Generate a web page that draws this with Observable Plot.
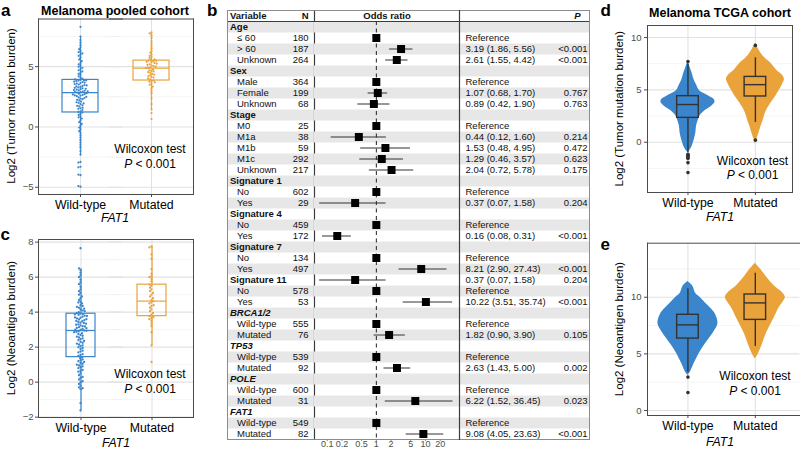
<!DOCTYPE html>
<html><head><meta charset="utf-8">
<script src="https://cdn.jsdelivr.net/npm/d3@7"></script>
<script src="https://cdn.jsdelivr.net/npm/@observablehq/plot@0.6"></script>
<style>
body{margin:0;background:#fff}
#root{position:relative;width:800px;height:451px;overflow:hidden;font-family:"Liberation Sans",Arial,Helvetica,sans-serif;color:#000;background:#fff}
.panel{position:absolute}
#overlay{position:absolute;left:0;top:0;pointer-events:none}
</style></head><body><div id="root"></div><script>
const FONT = '"Liberation Sans", Arial, Helvetica, sans-serif';
const FRAME = "#4a4a4a", DARK = "#333333", GRID_MAJOR = "#e2e2e2", GRID_MINOR = "#eeeeee";
const groups = ["Wild-type", "Mutated"];
const groupColors = ["#3a85cc", "#eaa23a"];

// ---------- panel a : pooled cohort, log2 tumour mutation burden ----------
const aWildType = [-4.95,-4.9,-4.0,-3.95,-3.35,-3.3,-2.95,-2.9,-2.3,-2.0,-1.7,-1.5,-1.3,-1.1,-0.9,-0.7,-0.5,-0.35,-0.2,-0.05,0.1,0.25,0.4,0.55,0.7,0.8,0.9,1.0,1.1,1.2,
 1.25,1.3,1.4,1.5,1.55,1.6,1.7,1.75,1.8,1.9,1.95,2.0,2.05,2.1,2.2,2.25,2.3,2.35,2.4,2.45,2.5,2.55,2.6,2.62,2.65,2.7,2.72,2.75,2.8,2.85,
 2.88,2.9,2.93,2.96,3.0,3.03,3.06,3.1,3.13,3.16,3.2,3.24,3.28,3.32,3.36,3.4,3.44,3.48,3.52,3.56,3.6,3.64,3.68,3.72,3.76,3.8,3.83,3.86,3.88,3.9,
 3.95,4.0,4.1,4.2,4.3,4.4,4.5,4.6,4.7,4.8,4.9,5.0,5.1,5.2,5.3,5.45,5.6,5.75,5.9,6.0,6.1,6.2,6.3,6.45,6.6,6.8,7.0,7.2,7.5,8.3];
const aMutated = [0.66,1.15,1.45,1.9,2.4,2.8,3.0,3.2,3.35,3.5,3.6,3.7,3.75,3.8,3.85,
 3.95,4.0,4.1,4.15,4.2,4.3,4.35,4.4,4.5,4.55,4.6,4.65,4.7,4.78,4.87,
 4.9,4.95,5.0,5.05,5.1,5.15,5.2,5.25,5.3,5.35,5.4,5.45,5.48,5.5,5.52,
 5.6,5.7,5.8,5.9,6.0,6.15,6.3,6.5,6.7,6.9,7.1,7.4,7.6,7.75,7.85];
const aWhiskerLo = [-2.3, 1.45], aQ1 = [1.2, 3.85], aMedian = [2.85, 4.87], aQ3 = [3.9, 5.5], aWhiskerHi = [7.5, 7.83];
const aTicks = [-5, 0, 5], aMinor = [-2.5, 2.5, 7.5];

// ---------- panel c : pooled cohort, log2 neoantigen burden ----------
const cWildType = [-1.62,-1.2,-0.4,-0.35,-0.3,-0.2,-0.1,0.0,0.05,0.15,0.25,0.3,0.4,0.5,0.6,0.65,0.7,0.8,0.85,0.9,0.95,1.0,1.05,1.1,1.15,1.2,1.25,1.3,1.38,1.43,
 1.5,1.55,1.6,1.7,1.75,1.8,1.9,1.95,2.0,2.05,2.1,2.15,2.2,2.25,2.3,2.35,2.4,2.45,2.5,2.55,2.6,2.65,2.7,2.75,2.8,2.85,2.88,2.9,2.93,2.95,
 2.98,3.0,3.04,3.08,3.1,3.14,3.18,3.2,3.24,3.28,3.3,3.34,3.38,3.4,3.44,3.48,3.5,3.54,3.58,3.6,3.64,3.68,3.7,3.74,3.78,3.8,3.84,3.87,3.89,3.91,
 3.95,4.0,4.05,4.1,4.15,4.2,4.25,4.3,4.35,4.4,4.5,4.55,4.6,4.7,4.8,4.9,5.0,5.1,5.2,5.3,5.45,5.6,5.7,5.85,6.0,6.1,6.25,6.4,6.5,7.65];
const cMutated = [1.15,2.1,2.85,3.2,3.35,3.5,3.6,3.65,3.72,3.77,
 3.85,3.95,4.05,4.15,4.25,4.35,4.4,4.5,4.55,4.63,
 4.7,4.8,4.9,5.0,5.1,5.2,5.3,5.4,5.5,5.57,
 5.75,5.9,6.0,6.05,6.2,6.45,7.05,7.3,7.7,7.75];
const cWhiskerLo = [-1.62, 2.1], cQ1 = [1.43, 3.77], cMedian = [2.95, 4.63], cQ3 = [3.91, 5.57], cWhiskerHi = [6.48, 7.77];
const cTicks = [-2, 0, 2, 4, 6, 8], cMinor = [-1, 1, 3, 5, 7];

// ---------- panel d : TCGA, log2 tumour mutation burden (violin half-widths) ----------
const dViolinWT = [[-1.0,0],[-0.7,0.037],[-0.3,0.067],[0,0.082],[0.5,0.104],[1,0.119],[1.5,0.126],[2,0.148],[2.5,0.178],[3,0.252],[3.4,0.341],[3.8,0.4],[4.1,0.386],[4.4,0.312],[4.7,0.223],[5,0.163],[5.5,0.126],[6,0.089],[6.5,0.067],[7,0.04],[7.4,0.018],[7.7,0]];
const dViolinMut = [[-0.2,0],[0.3,0.022],[0.8,0.049],[1.5,0.082],[2,0.111],[2.5,0.134],[3,0.163],[3.5,0.208],[4,0.26],[4.5,0.312],[5,0.356],[5.5,0.4],[6,0.43],[6.4,0.4],[6.8,0.326],[7.15,0.282],[7.6,0.223],[8.1,0.134],[8.75,0.059],[9.2,0.022],[9.45,0]];
const dWhiskerLo = [-1.0, 1.9], dQ1 = [2.33, 4.37], dMedian = [3.6, 5.5], dQ3 = [4.4, 6.24], dWhiskerHi = [7.45, 8.06];
const dOutliersWT = [-1.15,-1.25,-1.35,-1.45,-1.55,-1.95,-2.9,7.7], dOutliersMut = [0.2, 9.25];
const dTicks = [0, 5, 10], dMinor = [-2.5, 2.5, 7.5];

// ---------- panel e : TCGA, log2 neoantigen burden ----------
const eViolinWT = [[3.1,0],[3.4,0.037],[4.1,0.089],[5.0,0.163],[5.9,0.26],[6.8,0.371],[7.65,0.445],[8.5,0.408],[9.0,0.341],[9.5,0.26],[10.0,0.178],[10.3,0.119],[11.0,0.07],[11.4,0]];
const eViolinMut = [[4.56,0],[4.9,0.037],[5.6,0.089],[6.8,0.163],[7.95,0.26],[9.1,0.356],[9.6,0.415],[10.0,0.445],[10.5,0.386],[11.0,0.282],[11.8,0.163],[12.4,0.089],[13.0,0]];
const eWhiskerLo = [3.38, 5.65], eQ1 = [6.35, 8.0], eMedian = [7.56, 9.5], eQ3 = [8.45, 10.24], eWhiskerHi = [10.74, 12.12];
const eOutliersWT = [2.95, 1.58], eOutliersMut = [];
const eTicks = [0, 5, 10], eMinor = [2.5, 7.5, 12.5];

// ---------- panel b : multivariable logistic regression ----------
const fVar = ["Age","≤ 60","> 60","Unknown","Sex","Male","Female","Unknown","Stage","M0","M1a","M1b","M1c","Unknown",
 "Signature 1","No","Yes","Signature 4","No","Yes","Signature 7","No","Yes","Signature 11","No","Yes",
 "BRCA1/2","Wild-type","Mutated","TP53","Wild-type","Mutated","POLE","Wild-type","Mutated","FAT1","Wild-type","Mutated"];
const fKind = ["h","s","s","s","h","s","s","s","h","s","s","s","s","s","h","s","s","h","s","s","h","s","s","h","s","s",
 "g","s","s","g","s","s","g","s","s","g","s","s"];
const fN = [null,180,187,264,null,364,199,68,null,25,38,59,292,217,null,602,29,null,459,172,null,134,497,null,578,53,
 null,555,76,null,539,92,null,600,31,null,549,82];
const fOR = [null,1,3.19,2.61,null,1,1.07,0.89,null,1,0.44,1.53,1.29,2.04,null,1,0.37,null,1,0.16,null,1,8.21,0.37,1,10.22,
 null,1,1.82,null,1,2.63,null,1,6.22,null,1,9.08];
const fLo = [null,null,1.86,1.55,null,null,0.68,0.42,null,null,0.12,0.48,0.46,0.72,null,null,0.07,null,null,0.08,null,null,2.90,0.07,null,3.51,
 null,null,0.90,null,null,1.43,null,null,1.52,null,null,4.05];
const fHi = [null,null,5.56,4.42,null,null,1.70,1.90,null,null,1.60,4.95,3.57,5.78,null,null,1.58,null,null,0.31,null,null,27.43,1.58,null,35.74,
 null,null,3.90,null,null,5.00,null,null,36.45,null,null,23.63];
const fP = ["","","<0.001","<0.001","","","0.767","0.763","","","0.214","0.472","0.623","0.175","","","0.204","","","<0.001","","","<0.001","0.204","","<0.001",
 "","","0.105","","","0.002","","","0.023","","","<0.001"];
const orTicks = [0.1, 0.2, 0.5, 1, 2, 5, 10, 20];

// ---------- helpers ----------
const root = document.getElementById("root");
function place(node, left, top) {
  const div = document.createElement("div");
  div.className = "panel"; div.style.left = left + "px"; div.style.top = top + "px";
  div.appendChild(node); root.appendChild(div);
}
const baseStyle = {background: "transparent", overflow: "visible", fontFamily: FONT, color: "#000"};
function boxRows(lo, q1, med, q3, hi) {
  return groups.map((g, i) => ({g, c: i + 1, lo: lo[i], q1: q1[i], med: med[i], q3: q3[i], hi: hi[i]}));
}
// placement order for the dodge (interleaved, so the swarm spreads to both sides)
function interleave(n) {
  return d3.range(n).sort((i, j) => ((i * 0.6180339887) % 1) - ((j * 0.6180339887) % 1));
}

// one group of a jittered box plot (panels a, c); the two halves overlap to form one panel
function stripHalf(o, gi, left, top) {
  const g = groups[gi], col = groupColors[gi];
  const vals = o.values[gi];
  const pts = interleave(vals.length).map(i => ({g, v: vals[i]}));
  const box = [o.box[gi]];
  const line = {stroke: col, strokeWidth: 1.2};
  const dims = {
    width: gi === 0 ? o.ml + o.half : o.half + o.mr,
    height: o.height,
    marginTop: o.mt, marginBottom: o.mb,
    marginLeft: gi === 0 ? o.ml : 0, marginRight: gi === 0 ? 0 : o.mr,
    style: baseStyle
  };
  const marks = [
    Plot.ruleY(o.minor, {stroke: GRID_MINOR, strokeWidth: 0.6}),
    Plot.ruleY(o.ticks, {stroke: GRID_MAJOR, strokeWidth: 1.1}),
    Plot.ruleX([g], {stroke: GRID_MAJOR, strokeWidth: 1.1}),
    Plot.ruleX(box, {x: "g", y1: "lo", y2: "q1", ...line}),
    Plot.ruleX(box, {x: "g", y1: "q3", y2: "hi", ...line}),
    Plot.barY(box, {x: "g", y1: "q1", y2: "q3", fill: "none", ...line}),
    Plot.tickY(box, {x: "g", y: "med", ...line}),
    Plot.frame({anchor: "top", stroke: FRAME}),
    Plot.frame({anchor: "bottom", stroke: FRAME}),
    Plot.frame({anchor: gi === 0 ? "left" : "right", stroke: FRAME}),
    Plot.axisX({tickSize: 3, tickPadding: 3, fontSize: 12.3, fill: "#000", stroke: FRAME, label: null})
  ];
  if (gi === 0) marks.push(Plot.axisY(o.ticks, {tickSize: 3, tickPadding: 2, fontSize: 9.5, fill: "#4d4d4d", stroke: FRAME, label: null}));
  place(Plot.plot({
    ...dims,
    x: {domain: [g], padding: o.pad},
    y: gi === 0 ? {domain: o.yDomain} : {domain: o.yDomain, axis: null},
    marks
  }), left, top);
  // points layer: same frame, dodged around the frame's middle (= the group's centre)
  place(Plot.plot({
    ...dims,
    y: {domain: o.yDomain, axis: null},
    marks: [Plot.dot(pts, Plot.dodgeX({anchor: "middle", padding: o.dodgePad}, {y: "v", r: o.r, fill: col}))]
  }), left, top);
}
function stripPanel(o, left, top) {
  stripHalf(o, 0, left, top);
  stripHalf(o, 1, left + o.ml + o.frameW - o.half, top);
}

function violinPanel(o) {
  const viol = [];
  o.violins.forEach((pairs, i) => pairs.forEach(([y, w]) => viol.push({g: groups[i], c: i + 1, y, w})));
  const outl = [];
  o.outliers.forEach((arr, i) => arr.forEach(v => outl.push({c: i + 1, v})));
  const box = o.box, hw = o.boxHalf;
  const dark = {stroke: DARK, strokeWidth: 1.4};
  const marks = [
    Plot.ruleY(o.minor, {stroke: GRID_MINOR, strokeWidth: 0.6}),
    Plot.ruleY(o.ticks, {stroke: GRID_MAJOR, strokeWidth: 1.1}),
    Plot.ruleX([1, 2], {stroke: GRID_MAJOR, strokeWidth: 1.1}),
    Plot.areaX(viol, {y: "y", x1: d => d.c - d.w, x2: d => d.c + d.w, z: "g", fill: "g", curve: "catmull-rom"}),
    Plot.ruleX(box, {x: "c", y1: "lo", y2: "q1", ...dark}),
    Plot.ruleX(box, {x: "c", y1: "q3", y2: "hi", ...dark}),
    Plot.rect(box, {x1: d => d.c - hw, x2: d => d.c + hw, y1: "q1", y2: "q3", fill: "g", ...dark}),
    Plot.ruleY(box, {y: "med", x1: d => d.c - hw, x2: d => d.c + hw, ...dark}),
    Plot.dot(outl, {x: "c", y: "v", r: 1.8, fill: DARK}),
    Plot.frame({anchor: "top", stroke: FRAME}),
    Plot.frame({anchor: "bottom", stroke: FRAME}),
    Plot.frame({anchor: "left", stroke: FRAME}),
    Plot.axisY(o.ticks, {tickSize: 3, tickPadding: 3, fontSize: 9.5, fill: "#4d4d4d", stroke: FRAME, label: null}),
    Plot.axisX([1, 2], {tickFormat: d => groups[d - 1], tickSize: 3, tickPadding: 3, fontSize: 12.3, fill: "#000", stroke: FRAME, label: null})
  ];
  if (o.rightBorder) marks.push(Plot.frame({anchor: "right", stroke: FRAME}));
  return Plot.plot({
    width: o.width, height: o.height,
    marginTop: o.mt, marginBottom: o.mb, marginLeft: o.ml, marginRight: o.mr,
    style: baseStyle,
    x: {domain: o.xDomain},
    y: {domain: o.yDomain},
    color: {domain: groups, range: groupColors},
    marks
  });
}

// ---------- panels a, c ----------
stripPanel({
  values: [aWildType, aMutated], box: boxRows(aWhiskerLo, aQ1, aMedian, aQ3, aWhiskerHi),
  height: 230, mt: 18.5, mb: 36, ml: 38, mr: 7.5, frameW: 154.5, half: 84, pad: 0.393,
  yDomain: [-5.6, 8.95], ticks: aTicks, minor: aMinor, r: 1.1, dodgePad: 0
}, 0, 0);
stripPanel({
  values: [cWildType, cMutated], box: boxRows(cWhiskerLo, cQ1, cMedian, cQ3, cWhiskerHi),
  height: 221, mt: 9, mb: 34, ml: 38, mr: 7, frameW: 155, half: 84, pad: 0.487,
  yDomain: [-2.02, 8.15], ticks: cTicks, minor: cMinor, r: 1.15, dodgePad: 0
}, 0, 230);

// ---------- panels d, e ----------
place(violinPanel({
  violins: [dViolinWT, dViolinMut], outliers: [dOutliersWT, dOutliersMut],
  box: boxRows(dWhiskerLo, dQ1, dMedian, dQ3, dWhiskerHi), boxHalf: 0.16,
  width: 200, height: 230, mt: 25, mb: 38, ml: 47, mr: 8,
  xDomain: [0.4, 2.55], yDomain: [-4.8, 11.15], ticks: dTicks, minor: dMinor, rightBorder: true
}), 600, 0);
place(violinPanel({
  violins: [eViolinWT, eViolinMut], outliers: [eOutliersWT, eOutliersMut],
  box: boxRows(eWhiskerLo, eQ1, eMedian, eQ3, eWhiskerHi), boxHalf: 0.16,
  width: 200, height: 221, mt: 12.7, mb: 36, ml: 47, mr: 0.5,
  xDomain: [0.4, 2.663], yDomain: [-0.44, 14.77], ticks: eTicks, minor: eMinor, rightBorder: false
}), 600, 230);

// ---------- panel b : table + forest plot ----------
const rowH = 11;
const fmt = d3.format(".2f");
const rows = fVar.map((label, i) => ({i, label, kind: fKind[i], n: fN[i], or: fOR[i], lo: fLo[i], hi: fHi[i], p: fP[i]}));
const yBand = {type: "band", domain: [-1, ...rows.map(d => d.i)], padding: 0, axis: null};
const tableCommon = {height: 451, marginTop: 10, marginBottom: 12, marginLeft: 0, marginRight: 0, style: baseStyle, y: yBand};
const STRIPE = "#e7e7e7", OUTER = "#8c8c8c", SEP = "#3c3c3c";
const stripes = () => Plot.ruleY(rows.filter(d => d.i % 2 === 0), {y: "i", stroke: STRIPE, strokeWidth: rowH});
const headerLine = () => Plot.ruleY([0], {dy: -rowH / 2, stroke: SEP});
const txt = {fontSize: 9.5, fill: "#111"};

place(Plot.plot({
  ...tableCommon, width: 87,
  marks: [
    stripes(), headerLine(),
    Plot.text(["Variable"], {y: () => -1, frameAnchor: "left", dx: 2.5, fontWeight: "bold", ...txt}),
    Plot.text(["N"], {y: () => -1, frameAnchor: "right", dx: -6, fontWeight: "bold", ...txt}),
    Plot.text(rows.filter(d => d.kind === "h"), {y: "i", text: "label", frameAnchor: "left", dx: 2.5, fontWeight: "bold", ...txt}),
    Plot.text(rows.filter(d => d.kind === "g"), {y: "i", text: "label", frameAnchor: "left", dx: 2.5, fontWeight: "bold", fontStyle: "italic", ...txt}),
    Plot.text(rows.filter(d => d.kind === "s"), {y: "i", text: "label", frameAnchor: "left", dx: 9.5, ...txt}),
    Plot.text(rows.filter(d => d.n != null), {y: "i", text: d => String(d.n), frameAnchor: "right", dx: -6, ...txt}),
    Plot.frame({anchor: "top", stroke: OUTER}),
    Plot.frame({anchor: "bottom", stroke: OUTER}),
    Plot.frame({anchor: "left", stroke: OUTER}),
    Plot.frame({anchor: "right", stroke: SEP, strokeWidth: 1.2})
  ]
}), 227, 0);

place(Plot.plot({
  ...tableCommon, width: 145,
  x: {type: "log", domain: [0.055, 49.4]},
  marks: [
    stripes(), headerLine(),
    Plot.text(["Odds ratio"], {y: () => -1, fontWeight: "bold", ...txt}),
    Plot.ruleX([1], {stroke: "#222", strokeDasharray: "4,3.5", insetTop: rowH}),
    Plot.ruleY(rows.filter(d => d.lo != null), {y: "i", x1: "lo", x2: "hi", stroke: DARK, strokeWidth: 1}),
    Plot.dot(rows.filter(d => d.or != null), {x: "or", y: "i", symbol: "square", r: 4.5, fill: "#000"}),
    Plot.frame({anchor: "top", stroke: OUTER}),
    Plot.frame({anchor: "bottom", stroke: OUTER}),
    Plot.axisX({ticks: orTicks, tickFormat: () => "", tickSize: 2, stroke: OUTER, label: null}),
    Plot.text(orTicks, {x: d => d, text: d => String(d), frameAnchor: "bottom", dy: 7.5, fontSize: 9, fill: "#4d4d4d"})
  ]
}), 314, 0);

place(Plot.plot({
  ...tableCommon, width: 130,
  marks: [
    stripes(), headerLine(),
    Plot.text(["P"], {y: () => -1, frameAnchor: "right", dx: -9, fontWeight: "bold", fontStyle: "italic", ...txt}),
    Plot.text(rows.filter(d => d.or != null), {y: "i", text: d => d.lo == null ? "Reference" : `${fmt(d.or)} (${fmt(d.lo)}, ${fmt(d.hi)})`, frameAnchor: "left", dx: 6, ...txt}),
    Plot.text(rows.filter(d => d.p !== ""), {y: "i", text: "p", frameAnchor: "right", dx: -2, ...txt}),
    Plot.frame({anchor: "top", stroke: OUTER}),
    Plot.frame({anchor: "bottom", stroke: OUTER}),
    Plot.frame({anchor: "left", stroke: SEP, strokeWidth: 1.2}),
    Plot.frame({anchor: "right", stroke: OUTER})
  ]
}), 459, 0);

// ---------- overlay text: panel letters, titles, axis titles, annotations ----------
const ov = [];
const T = (x, y, s, a = {}) => ov.push(`<text x="${x}" y="${y}" text-anchor="${a.anchor || "middle"}" font-size="${a.size || 12}"${a.weight ? ` font-weight="${a.weight}"` : ""}${a.italic ? ` font-style="italic"` : ""}${a.rot ? ` transform="rotate(-90 ${x} ${y})" dy="0.35em"` : ""}>${s}</text>`);
T(1, 15.5, "a", {anchor: "start", size: 17, weight: "bold"});
T(207, 15.5, "b", {anchor: "start", size: 17, weight: "bold"});
T(0.5, 240, "c", {anchor: "start", size: 17, weight: "bold"});
T(600.5, 15.5, "d", {anchor: "start", size: 17, weight: "bold"});
T(600.5, 250, "e", {anchor: "start", size: 17, weight: "bold"});
T(115, 15, "Melanoma pooled cohort", {size: 12.5, weight: "bold"});
T(720, 16.7, "Melanoma TCGA cohort", {size: 12.5, weight: "bold"});
T(11.3, 106, "Log2 (Tumor mutation burden)", {size: 11.5, rot: true});
T(11.3, 328, "Log2 (Neoantigen burden)", {size: 11.5, rot: true});
T(618.7, 108.7, "Log2 (Tumor mutation burden)", {size: 11.5, rot: true});
T(618.7, 329, "Log2 (Neoantigen burden)", {size: 11.5, rot: true});
T(115, 222, "FAT1", {size: 12.3, italic: true});
T(116, 447, "FAT1", {size: 12.3, italic: true});
T(720, 221, "FAT1", {size: 12.3, italic: true});
T(720, 446, "FAT1", {size: 12.3, italic: true});
const wil = (x, y1, y2) => {
  T(x, y1, "Wilcoxon test", {size: 12});
  ov.push(`<text x="${x}" y="${y2}" text-anchor="middle" font-size="12"><tspan font-style="italic">P</tspan> &lt; 0.001</text>`);
};
wil(150, 153.3, 167.6);
wil(150, 378.3, 392.6);
wil(752.5, 165, 179.3);
wil(755, 380, 395.3);
const ovDiv = document.createElement("div");
ovDiv.id = "overlay";
ovDiv.innerHTML = `<svg width="800" height="451" style="font-family:${FONT.replace(/"/g, "'")}" fill="#000">${ov.join("")}</svg>`;
root.appendChild(ovDiv);
</script></body></html>
